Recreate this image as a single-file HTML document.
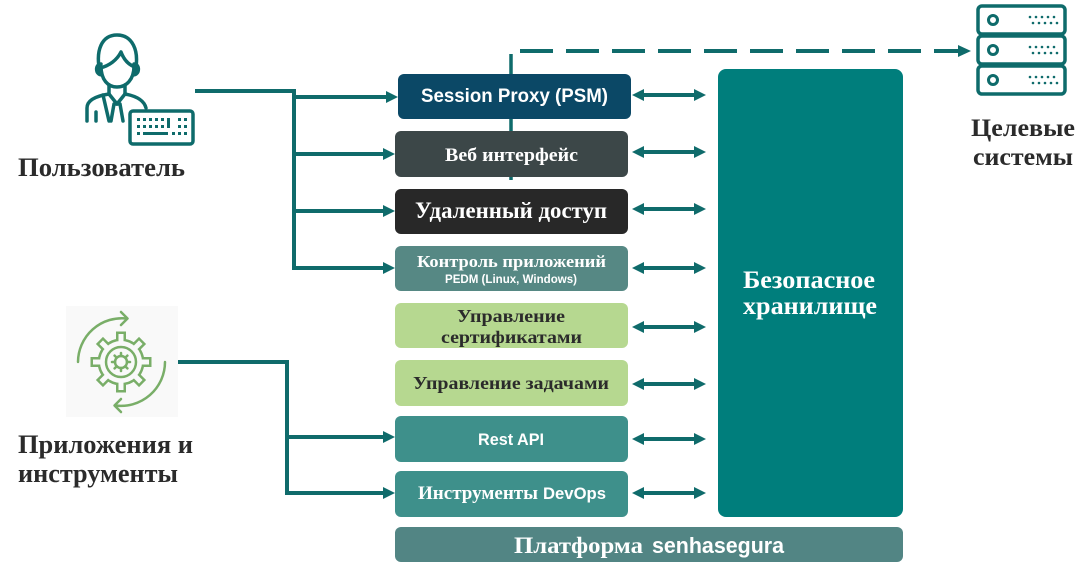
<!DOCTYPE html>
<html><head><meta charset="utf-8"><style>
html,body{margin:0;padding:0;background:#fff;width:1086px;height:574px;overflow:hidden}
svg{display:block}
.sf{font-family:"Liberation Serif","DejaVu Serif",serif;font-weight:bold}
.ss{font-family:"Liberation Sans","DejaVu Sans",sans-serif;font-weight:bold}
</style></head><body>
<svg width="1086" height="574" viewBox="0 0 1086 574" xmlns="http://www.w3.org/2000/svg">
<rect width="1086" height="574" fill="#fff"/>

<!-- vertical line behind PSM -->
<path d="M511 54 V180" stroke="#0f6b6b" stroke-width="3.5" fill="none"/>
<!-- dashed arrow -->
<path d="M520 51 H962" stroke="#0f6b6b" stroke-width="4" stroke-dasharray="33 13" fill="none"/>
<polygon points="958,45 971,51 958,57" fill="#0f6b6b"/>

<!-- user connectors -->
<g stroke="#0f6b6b" stroke-width="4" fill="none">
<path d="M195 91 H296"/>
<path d="M294 89 V270"/>
<path d="M294 97 H388"/>
<path d="M294 154 H386"/>
<path d="M294 211 H386"/>
<path d="M294 268 H386"/>
<path d="M177 362 H289"/>
<path d="M287 360 V495"/>
<path d="M287 437 H386"/>
<path d="M287 493 H386"/>
</g>
<g fill="#0f6b6b">
<polygon points="386,91 398,97 386,103"/>
<polygon points="383,148 395,154 383,160"/>
<polygon points="383,205 395,211 383,217"/>
<polygon points="383,262 395,268 383,274"/>
<polygon points="383,431 395,437 383,443"/>
<polygon points="383,487 395,493 383,499"/>
</g>

<!-- double arrows -->
<g stroke="#0f6b6b" stroke-width="4">
<path d="M640 95 H698"/><path d="M640 152 H698"/><path d="M640 209 H698"/><path d="M640 268 H698"/>
<path d="M640 327 H698"/><path d="M640 384 H698"/><path d="M640 439 H698"/><path d="M640 493 H698"/>
</g>
<g fill="#0f6b6b">
<polygon points="632,95 644,89 644,101"/><polygon points="706,95 694,89 694,101"/>
<polygon points="632,152 644,146 644,158"/><polygon points="706,152 694,146 694,158"/>
<polygon points="632,209 644,203 644,215"/><polygon points="706,209 694,203 694,215"/>
<polygon points="632,268 644,262 644,274"/><polygon points="706,268 694,262 694,274"/>
<polygon points="632,327 644,321 644,333"/><polygon points="706,327 694,321 694,333"/>
<polygon points="632,384 644,378 644,390"/><polygon points="706,384 694,378 694,390"/>
<polygon points="632,439 644,433 644,445"/><polygon points="706,439 694,433 694,445"/>
<polygon points="632,493 644,487 644,499"/><polygon points="706,493 694,487 694,499"/>
</g>

<!-- boxes -->
<rect x="398" y="74" width="233" height="45" rx="6" fill="#0b4866"/>
<rect x="395" y="131" width="233" height="46" rx="6" fill="#3c4748"/>
<rect x="395" y="189" width="233" height="45" rx="6" fill="#282828"/>
<rect x="395" y="246" width="233" height="45" rx="6" fill="#568884"/>
<rect x="395" y="303" width="233" height="45" rx="6" fill="#b6d890"/>
<rect x="395" y="360" width="233" height="46" rx="6" fill="#b6d890"/>
<rect x="395" y="416" width="233" height="46" rx="6" fill="#3e908b"/>
<rect x="395" y="471" width="233" height="46" rx="6" fill="#3e908b"/>
<rect x="395" y="527" width="508" height="35" rx="6" fill="#528584"/>
<rect x="718" y="69" width="185" height="448" rx="8" fill="#007e7c"/>

<!-- box texts -->
<text class="ss" x="421" y="102" font-size="19" fill="#fff" textLength="187" lengthAdjust="spacingAndGlyphs">Session Proxy (PSM)</text>
<text class="sf" x="445" y="161" font-size="19" fill="#fff" textLength="133" lengthAdjust="spacingAndGlyphs">Веб интерфейс</text>
<text class="sf" x="415" y="218" font-size="23" fill="#fff" textLength="192" lengthAdjust="spacingAndGlyphs">Удаленный доступ</text>
<text class="sf" x="417" y="267" font-size="17" fill="#fff" textLength="189" lengthAdjust="spacingAndGlyphs">Контроль приложений</text>
<text class="ss" x="445" y="283" font-size="12" fill="#fff" textLength="132" lengthAdjust="spacingAndGlyphs">PEDM (Linux, Windows)</text>
<text class="sf" x="457" y="322" font-size="18" fill="#2b2b2b" textLength="108" lengthAdjust="spacingAndGlyphs">Управление</text>
<text class="sf" x="441" y="343" font-size="18" fill="#2b2b2b" textLength="141" lengthAdjust="spacingAndGlyphs">сертификатами</text>
<text class="sf" x="413" y="389" font-size="18" fill="#2b2b2b" textLength="196" lengthAdjust="spacingAndGlyphs">Управление задачами</text>
<text class="ss" x="478" y="445" font-size="17" fill="#fff" textLength="66" lengthAdjust="spacingAndGlyphs">Rest API</text>
<text class="sf" x="418" y="499" font-size="19" fill="#fff" textLength="120" lengthAdjust="spacingAndGlyphs">Инструменты</text>
<text class="ss" x="543" y="499" font-size="17" fill="#fff" textLength="63" lengthAdjust="spacingAndGlyphs">DevOps</text>
<text class="sf" x="514" y="553" font-size="23" fill="#fff" textLength="129" lengthAdjust="spacingAndGlyphs">Платформа</text>
<text class="ss" x="652" y="553" font-size="22" fill="#fff" textLength="132" lengthAdjust="spacingAndGlyphs">senhasegura</text>
<text class="sf" x="743" y="288" font-size="25" fill="#fff" textLength="132" lengthAdjust="spacingAndGlyphs">Безопасное</text>
<text class="sf" x="743" y="314" font-size="25" fill="#fff" textLength="134" lengthAdjust="spacingAndGlyphs">хранилище</text>

<!-- side labels -->
<text class="sf" x="18" y="176" font-size="26" fill="#2b2b2b" textLength="167" lengthAdjust="spacingAndGlyphs">Пользователь</text>
<text class="sf" x="18" y="453" font-size="26" fill="#2b2b2b" textLength="175" lengthAdjust="spacingAndGlyphs">Приложения и</text>
<text class="sf" x="18" y="482" font-size="26" fill="#2b2b2b" textLength="160" lengthAdjust="spacingAndGlyphs">инструменты</text>
<text class="sf" x="971" y="136" font-size="25" fill="#2b2b2b" textLength="104" lengthAdjust="spacingAndGlyphs">Целевые</text>
<text class="sf" x="973" y="165" font-size="25" fill="#2b2b2b" textLength="100" lengthAdjust="spacingAndGlyphs">системы</text>

<!-- user icon -->
<g stroke="#0e6b6b" stroke-width="3.5" fill="none" stroke-linecap="round" stroke-linejoin="round">
<path d="M100 72 C95 50 102 35 117 35 C132 35 140 50 135 72"/>
<path d="M100 68 C109 66 117 60 121 52 C124 60 129 65 135 67"/>
<path d="M101 66 C101 80 108 87 117 87 C126 87 134 80 134 66"/>
<path d="M101 64 C95 64 95 75 102 75"/>
<path d="M134 64 C140 64 140 75 133 75"/>
<path d="M109 85 V94 M125 85 V94"/>
<path d="M87 121 V108 C87 100 96 96 109 94"/>
<path d="M125 94 C136 96 144 100 146 108"/>
<path d="M109 94 L117 104 L125 94"/>
<path d="M103 95 L109 121"/>
<path d="M114 104 L111 121 M120 104 L123 121 M114 104 H120"/>
<path d="M96 112 V121"/>
</g>
<rect x="130" y="111" width="63" height="33" rx="3" fill="#fff" stroke="#0e6b6b" stroke-width="3.5"/>
<g fill="#0e6b6b">
<rect x="137" y="118" width="3" height="3"/><rect x="143" y="118" width="3" height="3"/><rect x="149" y="118" width="3" height="3"/><rect x="155" y="118" width="3" height="3"/><rect x="161" y="118" width="3" height="3"/><rect x="167" y="118" width="3" height="3"/>
<rect x="137" y="125" width="3" height="3"/><rect x="143" y="125" width="3" height="3"/><rect x="149" y="125" width="3" height="3"/><rect x="155" y="125" width="3" height="3"/><rect x="161" y="125" width="3" height="3"/><rect x="167" y="118" width="3" height="10"/>
<rect x="137" y="132" width="3" height="3"/><rect x="143" y="132" width="25" height="3"/><rect x="172" y="132" width="3" height="3"/>
<rect x="178" y="118" width="3" height="3"/><rect x="184" y="118" width="3" height="3"/><rect x="178" y="125" width="3" height="3"/><rect x="184" y="125" width="3" height="3"/><rect x="178" y="132" width="3" height="3"/><rect x="184" y="132" width="3" height="3"/>
</g>

<!-- apps icon -->
<rect x="66" y="306" width="112" height="111" fill="#f9f9f9"/>
<g fill="#79ae68">
<circle cx="121" cy="362" r="23.5"/>
<g transform="translate(121 362)">
<rect x="-5" y="-30.5" width="10" height="12"/>
<rect x="-5" y="-30.5" width="10" height="12" transform="rotate(45)"/>
<rect x="-5" y="-30.5" width="10" height="12" transform="rotate(90)"/>
<rect x="-5" y="-30.5" width="10" height="12" transform="rotate(135)"/>
<rect x="-5" y="-30.5" width="10" height="12" transform="rotate(180)"/>
<rect x="-5" y="-30.5" width="10" height="12" transform="rotate(225)"/>
<rect x="-5" y="-30.5" width="10" height="12" transform="rotate(270)"/>
<rect x="-5" y="-30.5" width="10" height="12" transform="rotate(315)"/>
</g>
</g>
<g fill="#f9f9f9">
<circle cx="121" cy="362" r="21"/>
<g transform="translate(121 362)">
<rect x="-2.5" y="-28" width="5" height="10"/>
<rect x="-2.5" y="-28" width="5" height="10" transform="rotate(45)"/>
<rect x="-2.5" y="-28" width="5" height="10" transform="rotate(90)"/>
<rect x="-2.5" y="-28" width="5" height="10" transform="rotate(135)"/>
<rect x="-2.5" y="-28" width="5" height="10" transform="rotate(180)"/>
<rect x="-2.5" y="-28" width="5" height="10" transform="rotate(225)"/>
<rect x="-2.5" y="-28" width="5" height="10" transform="rotate(270)"/>
<rect x="-2.5" y="-28" width="5" height="10" transform="rotate(315)"/>
</g>
</g>
<g stroke="#79ae68" stroke-width="2.5" fill="none" stroke-linecap="round" stroke-linejoin="round">
<circle cx="121" cy="362" r="15"/>
<circle cx="121" cy="362" r="6"/>
<g transform="translate(121 362)">
<path d="M0 -6 V-9 M0 6 V9 M-6 0 H-9 M6 0 H9 M4.2 4.2 L6.4 6.4 M-4.2 4.2 L-6.4 6.4 M4.2 -4.2 L6.4 -6.4 M-4.2 -4.2 L-6.4 -6.4"/>
</g>
<path d="M78 362 A44 44 0 0 1 127 318.5"/>
<path d="M121 312 L127.5 318.5 L121 325"/>
<path d="M165 362 A44 44 0 0 1 115 405.5"/>
<path d="M121 399 L114.5 405.5 L121 412"/>
</g>

<!-- server icon -->
<g stroke="#0e6b6b" stroke-width="3.5" fill="#fff">
<rect x="978" y="6" width="87" height="28" rx="4"/>
<rect x="978" y="36" width="87" height="28" rx="4"/>
<rect x="978" y="66" width="87" height="28" rx="4"/>
<circle cx="993" cy="20" r="4.5" stroke-width="3"/>
<circle cx="993" cy="50" r="4.5" stroke-width="3"/>
<circle cx="993" cy="80" r="4.5" stroke-width="3"/>
</g>
<g fill="#0e6b6b">
<g>
<circle cx="1030" cy="17" r="1.3"/><circle cx="1036" cy="17" r="1.3"/><circle cx="1042" cy="17" r="1.3"/><circle cx="1048" cy="17" r="1.3"/><circle cx="1054" cy="17" r="1.3"/>
<circle cx="1033" cy="23" r="1.3"/><circle cx="1039" cy="23" r="1.3"/><circle cx="1045" cy="23" r="1.3"/><circle cx="1051" cy="23" r="1.3"/><circle cx="1057" cy="23" r="1.3"/>
</g>
<g transform="translate(0 30)">
<circle cx="1030" cy="17" r="1.3"/><circle cx="1036" cy="17" r="1.3"/><circle cx="1042" cy="17" r="1.3"/><circle cx="1048" cy="17" r="1.3"/><circle cx="1054" cy="17" r="1.3"/>
<circle cx="1033" cy="23" r="1.3"/><circle cx="1039" cy="23" r="1.3"/><circle cx="1045" cy="23" r="1.3"/><circle cx="1051" cy="23" r="1.3"/><circle cx="1057" cy="23" r="1.3"/>
</g>
<g transform="translate(0 60)">
<circle cx="1030" cy="17" r="1.3"/><circle cx="1036" cy="17" r="1.3"/><circle cx="1042" cy="17" r="1.3"/><circle cx="1048" cy="17" r="1.3"/><circle cx="1054" cy="17" r="1.3"/>
<circle cx="1033" cy="23" r="1.3"/><circle cx="1039" cy="23" r="1.3"/><circle cx="1045" cy="23" r="1.3"/><circle cx="1051" cy="23" r="1.3"/><circle cx="1057" cy="23" r="1.3"/>
</g>
</g>
</svg>
</body></html>
